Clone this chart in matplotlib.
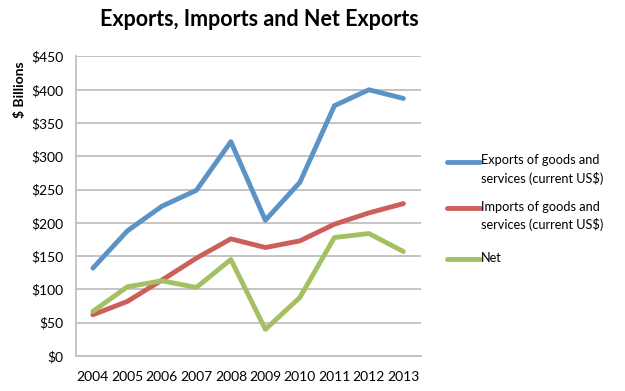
import matplotlib
matplotlib.use("Agg")
import matplotlib.pyplot as plt
from matplotlib.lines import Line2D

years = [2004, 2005, 2006, 2007, 2008, 2009, 2010, 2011, 2012, 2013]
exports = [132, 188, 225, 249, 322, 204, 261, 376, 400, 387]
imports = [62, 82, 114, 147, 176, 163, 173, 198, 215, 229]
net = [67, 104, 113, 103, 145, 40, 88, 178, 184, 157]
yticks = [0, 50, 100, 150, 200, 250, 300, 350, 400, 450]

series = [
    ("Exports of goods and\nservices (current US$)", exports, "#5b93c7"),
    ("Imports of goods and\nservices (current US$)", imports, "#cc5f5a"),
    ("Net", net, "#a3c163"),
]

plt.rcParams['font.family'] = ['Lato', 'DejaVu Sans']

W, H = 625, 391
fig = plt.figure(figsize=(6.25, 3.91), dpi=100)
ax = fig.add_axes([0.121, 0.0895, 0.552, 0.766])

for label, vals, color in series:
    ax.plot(years, vals, color=color, lw=3.5, label=label, solid_capstyle='round')

ax.set_xlim(2003.5, 2013.5)
ax.set_ylim(0, 450)
ax.set_yticks(yticks)
ax.set_yticklabels([f"${v}" for v in yticks], fontsize=10)
ax.set_xticks(years)
ax.set_xticklabels([str(y) for y in years], fontsize=10)
ax.tick_params(length=0)
ax.tick_params(axis='x', pad=11)
ax.tick_params(axis='y', pad=9)
ax.grid(axis='y', color='#bfbfbf', lw=1.3)
ax.set_axisbelow(True)
for s in ['top', 'right']:
    ax.spines[s].set_visible(False)
for s in ['left', 'bottom']:
    ax.spines[s].set_color('#bfbfbf')
    ax.spines[s].set_linewidth(1.3)

ax.set_ylabel("$ Billions", fontsize=10, fontweight='bold')
ax.yaxis.set_label_coords(-0.145, 0.889)

fig.text(259 / W, 1 - 20 / H, "Exports, Imports and Net Exports", fontsize=15.5,
         fontweight='bold', ha='center', va='center')

# legend, handle aligned with the first text line
leg_y = [162, 208, 259]
for (label, vals, color), yy in zip(series, leg_y):
    fy = 1 - yy / H
    fig.lines.append(Line2D([447 / W, 480 / W], [fy, fy], transform=fig.transFigure,
                            color=color, lw=3.5, solid_capstyle='round'))
    fig.text(481 / W, fy + 7.5 / H, label, fontsize=9.2, ha='left', va='top',
             linespacing=1.5)

fig.savefig("out.png", dpi=100)
